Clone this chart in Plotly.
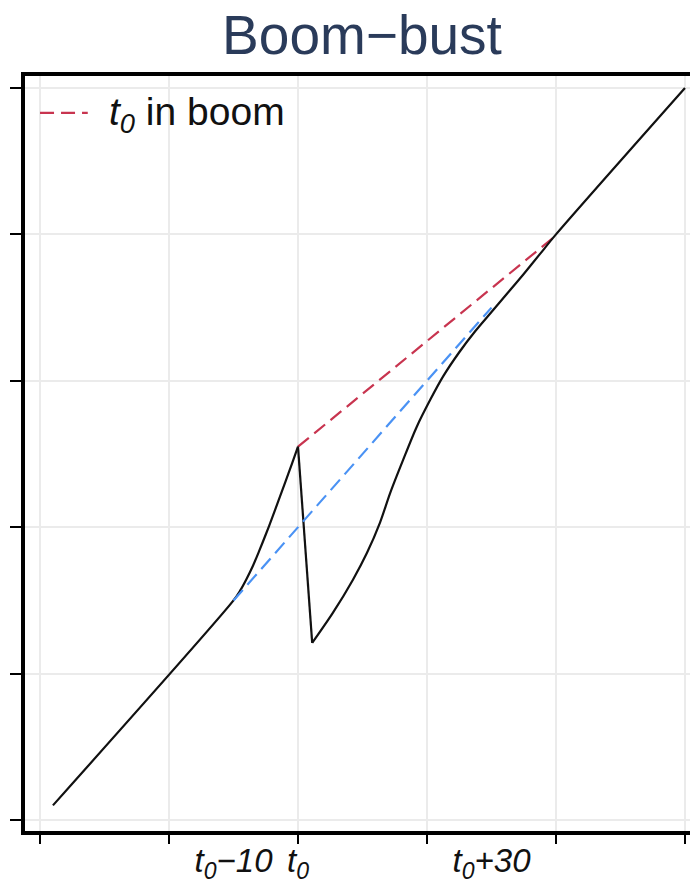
import plotly.graph_objects as go

# ---- data ----
# trend before the boom and the boom itself
boom_path_x = [2, 30, 31, 32, 33, 34, 35, 36, 37, 38, 39, 40]
boom_path_y = [2, 30, 31.3, 32.9, 34.7, 36.8, 39.0, 41.3, 43.7, 46.1, 48.5, 51.0]
# the bust
bust_x = [40, 42.2]
bust_y = [51.0, 24.2]
# recovery and return to trend
recov_x = [42.2, 45.4, 48.5, 50.7, 52.7, 54.3, 56.3, 58.4, 60.5, 62.5, 65.0,
           67.5, 70.0, 72.5, 75.0, 77.5, 80.0, 100]
recov_y = [24.2, 28.3, 32.8, 36.5, 40.6, 44.7, 49.2, 53.7, 57.4, 60.6, 63.9,
           66.8, 69.4, 72.0, 74.6, 77.3, 80.0, 100]

boom_x = [40, 79.5]      # t0 in boom (red dashed)
boom_y = [51.0, 79.5]
trend_x = [30, 70]       # trend through boom (blue dashed)
trend_y = [30, 70]

grid_vals = [0, 20, 40, 60, 80, 100]
label_vals = [30, 40, 70]
label_text = ["<i>t<sub>0</sub>\u221210</i>", "<i>t<sub>0</sub></i>", "<i>t<sub>0</sub>+30</i>"]
legend_label = "<i>t<sub>0</sub></i> in boom"
title_text = "Boom\u2212bust"

RED = "#c8344f"
BLUE = "#4a92f4"
DASH = "14px,7px"
FONT = "Liberation Sans, Arial, sans-serif"

fig = go.Figure()
fig.add_trace(go.Scatter(x=trend_x, y=trend_y, mode="lines", xaxis="x2",
                         line=dict(color=BLUE, width=2.2, dash=DASH), showlegend=False))
fig.add_trace(go.Scatter(x=boom_x, y=boom_y, mode="lines",
                         line=dict(color=RED, width=2.2, dash=DASH), showlegend=False,
                         name="t0 in boom"))
fig.add_trace(go.Scatter(x=boom_path_x, y=boom_path_y, mode="lines",
                         line=dict(color="#111111", width=2.2, shape="spline", smoothing=0.8),
                         showlegend=False))
fig.add_trace(go.Scatter(x=bust_x, y=bust_y, mode="lines",
                         line=dict(color="#111111", width=2.2), showlegend=False))
fig.add_trace(go.Scatter(x=recov_x, y=recov_y, mode="lines",
                         line=dict(color="#111111", width=2.2, shape="spline", smoothing=0.8),
                         showlegend=False))

xr = [-2.33, 100.78]
yr = [-1.50, 101.64]

fig.update_layout(
    width=690, height=884,
    margin=dict(l=25, r=0, t=76, b=53, autoexpand=False),
    paper_bgcolor="white", plot_bgcolor="white",
    font=dict(family=FONT, color="#111111"),
    title=dict(text=title_text, x=362 / 690, xanchor="center", xref="container",
               y=1 - 35 / 884, yanchor="middle", yref="container", automargin=False,
               font=dict(size=55, color="#2a3b5a", family=FONT)),
    showlegend=False,
    xaxis=dict(range=xr, tickvals=grid_vals, showticklabels=False, automargin=False,
               showgrid=True, gridcolor="#ebebeb", gridwidth=1.5,
               zeroline=False, showline=True, linecolor="black", linewidth=4,
               mirror=True, ticks="outside", ticklen=9, tickwidth=2, tickcolor="black"),
    xaxis2=dict(range=xr, overlaying="x", anchor="y", side="bottom", matches="x",
                automargin=False,
                tickvals=label_vals, ticktext=label_text, showgrid=False,
                zeroline=False, showline=False, ticks="", ticklabelstandoff=7,
                tickfont=dict(size=33, color="#111111", family=FONT)),
    yaxis=dict(range=yr, tickvals=grid_vals, showticklabels=False, automargin=False,
               showgrid=True, gridcolor="#ebebeb", gridwidth=1.5,
               zeroline=False, showline=True, linecolor="black", linewidth=4,
               mirror=False, ticks="outside", ticklen=11, tickwidth=2, tickcolor="black"),
)

# manual legend entry
fig.add_shape(type="line", xref="x", yref="y", x0=0, x1=7.4, y0=96.6, y1=96.6,
              line=dict(color=RED, width=2.2, dash=DASH))
fig.add_annotation(x=10.4, y=96.4, xref="x", yref="y", text=legend_label,
                   showarrow=False, xanchor="left", yanchor="middle",
                   font=dict(size=39, color="#111111", family=FONT))

fig.write_html("out.html")
